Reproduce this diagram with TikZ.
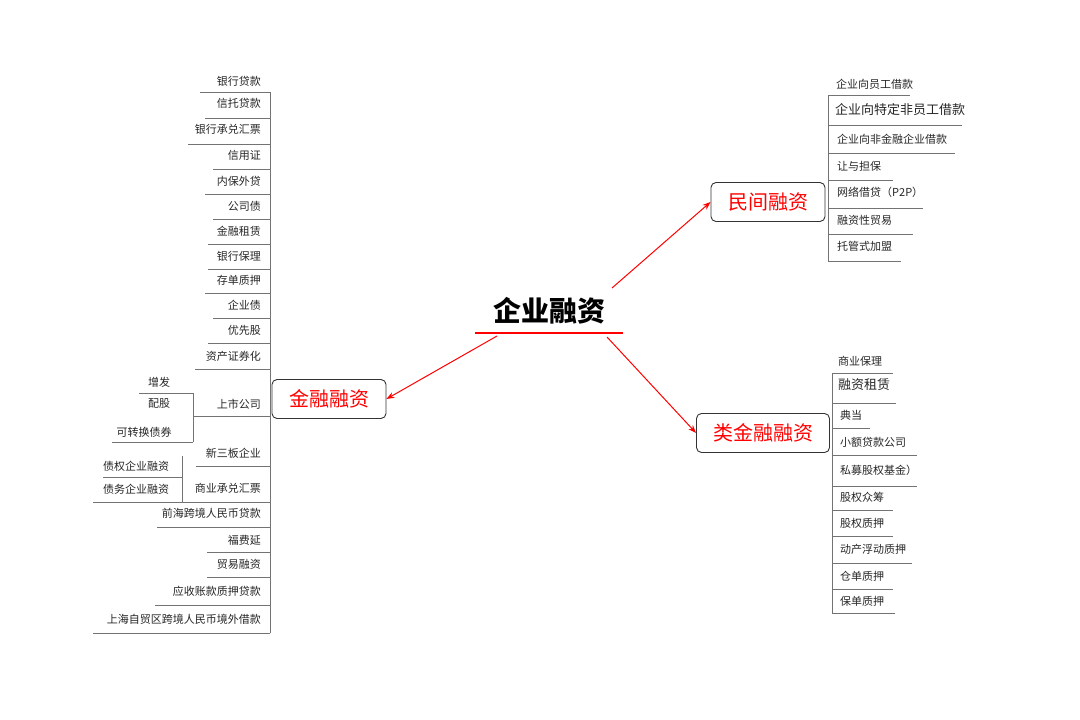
\documentclass[tikz,border=0pt]{standalone}
\usepackage{fontspec}
\setmainfont{Noto Sans CJK SC}
\newfontfamily\cjk{Noto Sans CJK SC}
\usetikzlibrary{arrows.meta}
\begin{document}
\begin{tikzpicture}[x=1pt,y=-1pt,
  it/.style={font=\fontsize{11}{12}\selectfont,inner sep=0pt,text=black!85},
  itb/.style={font=\fontsize{13}{14}\selectfont,inner sep=0pt,text=black!85},
  ln/.style={draw=black!55,line width=0.8pt},
  box/.style={draw=black!80,rounded corners=5pt,line width=0.9pt,minimum width=114,minimum height=39,font=\fontsize{20}{22}\selectfont,text=red,fill=white},
  arr/.style={draw=red,line width=1pt,-{Stealth[length=8pt,width=6pt]}}]
\useasboundingbox (0,0) rectangle (1080,720);
% center
\node[font=\fontsize{28}{30}\selectfont\bfseries,inner sep=0pt] (c) at (549,311) {企业融资};
\draw[red,line width=2.5pt] (475,333) -- (623,333);
\node[box] (jr) at (329,399) {金融融资};
\node[box] (mj) at (768,202) {民间融资};
\node[box,minimum width=133] (lj) at (763,433) {类金融融资};
\draw[arr] (497,336) -- (jr.east);
\draw[arr] (612,288) -- (mj.west);
\draw[arr] (607,337) -- (lj.west);
% left column
\draw[ln] (270,92) -- (270,633);
\foreach \t/\ty/\ly/\lx in {银行贷款/81/92/200, 信托贷款/103/118/205, 银行承兑汇票/129/144/188, 信用证/155/169/213,
  内保外贷/181/194/205, 公司债/206/219/213, 金融租赁/231/244/208, 银行保理/256/269/208, 存单质押/280/293/205,
  企业债/305/318/213, 优先股/330/343/208, 资产证券化/356/369/195, 上市公司/404/416/193, 新三板企业/453/466/196,
  商业承兑汇票/488/502/93, 前海跨境人民币贷款/513/527/157, 福费延/540/552/207, 贸易融资/564/577/207,
  应收账款质押贷款/591/605/155, 上海自贸区跨境人民币境外借款/619/633/93}{
  \node[it,anchor=east] (L\ty) at (261,\ty) {\t};
  \draw[ln] (\lx,\ly) -- (270,\ly);
}
\node[it] (zf) at (159,382) {增发};
\node[it] (pg) at (159,404) {配股};
\node[it] (kz) at (144,432) {可转换债券};
\draw[ln] (139,393) -- (193,393);
\draw[ln] (112,442) -- (193,442);
\draw[ln] (193,393) -- (193,442);
\node[it] (zq) at (136,466) {债权企业融资};
\node[it] (zw) at (136,489) {债务企业融资};
\draw[ln] (103,477) -- (182,477);
\draw[ln] (182,456) -- (182,502);
% right top
\draw[ln] (828,95) -- (828,261);
\node[it,anchor=west] (r1) at (836,84) {企业向员工借款};
\draw[ln] (828,95) -- (910,95);
\node[itb,anchor=west] (r2) at (835,110) {企业向特定非员工借款};
\draw[ln] (828,125) -- (962,125);
\foreach \t/\ty/\ly/\lx in {企业向非金融企业借款/139/153/955, 让与担保/166/180/893, 网络借贷（P2P）/192/208/923,
  融资性贸易/220/234/913, 托管式加盟/246/261/901}{
  \node[it,anchor=west] (R\ty) at (837,\ty) {\t};
  \draw[ln] (828,\ly) -- (\lx,\ly);
}
% right bottom
\draw[ln] (832,373) -- (832,613);
\node[it,anchor=west] (b1) at (838,361) {商业保理};
\draw[ln] (832,373) -- (893,373);
\node[itb,anchor=west] (b2) at (838,385) {融资租赁};
\draw[ln] (832,403) -- (896,403);
\foreach \t/\ty/\ly/\lx in {典当/415/428/870, 小额贷款公司/442/455/917, 私募股权基金）/470/486/917, 股权众筹/497/510/893,
  股权质押/523/536/893, 动产浮动质押/549/563/912, 仓单质押/576/589/893, 保单质押/601/613/895}{
  \node[it,anchor=west] (B\ty) at (840,\ty) {\t};
  \draw[ln] (832,\ly) -- (\lx,\ly);
}
\end{tikzpicture}
\end{document}
